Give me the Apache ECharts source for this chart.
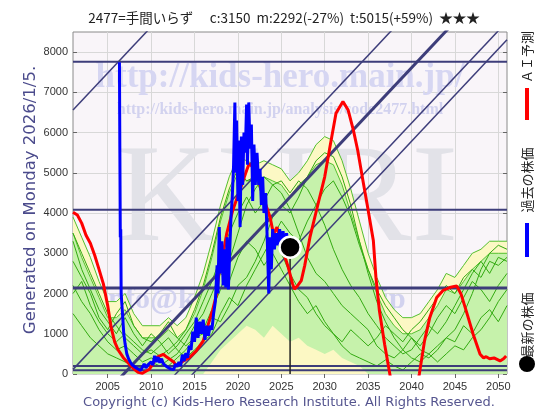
<!DOCTYPE html>
<html>
<head>
<meta charset="utf-8">
<script src="https://cdn.jsdelivr.net/npm/echarts@6/dist/echarts.min.js"></script>
<style>
html, body { margin: 0; padding: 0; background: #fff; }
#chart { width: 560px; height: 420px; }
</style>
</head>
<body>
<div id="chart"></div>
<script>
// 年（帯・シミュレーション線の横軸）
var years = [2001, 2002, 2003, 2004, 2005, 2006, 2007, 2008, 2009, 2010,
  2011, 2012, 2013, 2014, 2015, 2016, 2017, 2018, 2019, 2020,
  2021, 2022, 2023, 2024, 2025, 2026, 2027, 2028, 2029, 2030,
  2031, 2032, 2033, 2034, 2035, 2036, 2037, 2038, 2039, 2040,
  2041, 2042, 2043, 2044, 2045, 2046, 2047, 2048, 2049, 2050, 2051];

var xTicks = [2005, 2010, 2015, 2020, 2025, 2030, 2035, 2040, 2045, 2050];
var yTicks = [0, 1000, 2000, 3000, 4000, 5000, 6000, 7000, 8000];

// 帯（黄色＝外側、緑＝内側）
var yellowUpper = [3900, 3400, 2900, 2300, 1800, 1800, 2000, 1500, 1200, 1200,
  1200, 1400, 1200, 1400, 1900, 2500, 3300, 4200, 4900, 5400,
  5300, 5200, 5300, 5200, 5100, 4800, 5000, 5300, 5700, 5900,
  5800, 5300, 4600, 3800, 3000, 2400, 1900, 1600, 1400, 1400,
  1500, 1800, 2100, 2500, 2400, 2700, 3000, 3100, 3300, 3300, 3300];
var greenUpper = [3500, 2900, 2400, 1900, 1400, 1400, 1600, 1200, 900, 900,
  900, 1100, 900, 1100, 1500, 2100, 2900, 3800, 4500, 5000,
  4800, 4800, 4900, 4800, 4700, 4400, 4700, 4900, 5200, 5300,
  5200, 4700, 4000, 3300, 2600, 2000, 1500, 1200, 1000, 1000,
  1100, 1400, 1700, 2100, 2000, 2300, 2600, 2800, 3000, 3000, 3000];
var yellowLower = [0, 0, 0, 0, 0, 0, 0, 0, 0, 0,
  0, 0, 0, 0, 0, 0, 300, 600, 800, 1000,
  1200, 1100, 900, 1200, 1000, 800, 900, 700, 600, 500,
  600, 400, 300, 200, 0, 0, 0, 0, 0, 0,
  0, 0, 0, 0, 0, 0, 0, 0, 0, 0, 0];

// 類似パターン（緑の細線）
var sim1 = [3500, 3000, 2500, 2000, 1500, 1200, 900, 700, 500, 600,
  450, 600, 800, 1100, 1600, 2200, 3000, 3900, 4600, 5100,
  4800, 4900, 4300, 3600, 3000, 2500, 2100, 1900, 1500, 1200,
  1000, 800, 1100, 900, 700, 900, 1200, 1000, 800, 1100,
  1300, 1600, 1900, 2200, 2000, 2400, 2600, 2400, 2800, 2700, 2900];
var sim2 = [2800, 2400, 2000, 1400, 1100, 1500, 1800, 1200, 900, 800,
  1000, 1300, 900, 700, 900, 1000, 1400, 1300, 1700, 2200,
  2400, 2800, 3300, 3900, 4200, 4000, 4400, 4900, 5300, 5500,
  5400, 4900, 4200, 3300, 2500, 1800, 1300, 900, 600, 400,
  300, 500, 700, 900, 1100, 1500, 2000, 2600, 3000, 3200, 3100];
var sim3 = [2200, 1800, 1500, 1100, 800, 600, 700, 500, 300, 400,
  300, 200, 400, 600, 900, 1100, 1600, 2100, 2800, 3500,
  4200, 4600, 4900, 4700, 4500, 4100, 3500, 2900, 2500, 2300,
  2000, 1700, 1500, 1300, 1100, 700, 500, 400, 600, 900,
  700, 1000, 1400, 1700, 1500, 1900, 2300, 2100, 1800, 2200, 2500];
var sim4 = [1500, 1200, 900, 700, 500, 400, 300, 200, 150, 300,
  200, 350, 500, 800, 1200, 1500, 2000, 2500, 2300, 2900,
  3300, 3100, 2700, 3000, 2600, 2200, 1800, 1500, 1700, 1300,
  1000, 700, 500, 400, 300, 200, 350, 200, 100, 300,
  500, 400, 600, 900, 800, 1200, 1000, 1400, 1600, 1300, 1700];
var sim5 = [3300, 2600, 2100, 1600, 1300, 1000, 1400, 1000, 700, 1000,
  800, 500, 700, 1000, 1300, 1800, 2300, 2900, 3500, 4000,
  4400, 4000, 4300, 4700, 4800, 4500, 4800, 4600, 4200, 3700,
  3100, 2600, 2200, 1900, 1500, 1200, 900, 700, 500, 600,
  900, 1200, 1000, 1300, 1700, 2100, 2500, 2800, 2500, 2900, 2800];
var sim6 = [2000, 2300, 1700, 1300, 1000, 800, 1000, 800, 600, 500,
  700, 900, 600, 400, 600, 800, 1000, 1500, 1900, 1700,
  2200, 2600, 3000, 3400, 3800, 3500, 3300, 3800, 4200, 4600,
  4800, 4400, 3900, 3200, 2600, 2100, 1700, 1400, 1100, 900,
  600, 500, 300, 500, 700, 600, 900, 1100, 1400, 1800, 2100];

// 過去の株価 [年, 株価]
var pastPrice = [
  [2006.35, 7750], [2006.4, 5500], [2006.45, 3400], [2006.5, 3600], [2006.55, 2000],
  [2006.7, 1500], [2006.85, 1000], [2007.0, 750], [2007.2, 500], [2007.4, 380],
  [2007.6, 300], [2007.8, 230], [2008.0, 200], [2008.3, 150], [2008.5, 120],
  [2008.8, 90], [2009.0, 110], [2009.2, 250], [2009.4, 150], [2009.6, 220],
  [2009.8, 180], [2010.0, 300], [2010.2, 220], [2010.4, 450], [2010.6, 300],
  [2010.8, 420], [2011.0, 280], [2011.2, 380], [2011.4, 260], [2011.6, 300],
  [2011.8, 180], [2012.0, 200], [2012.2, 130], [2012.4, 160], [2012.6, 110],
  [2012.8, 250], [2013.0, 180], [2013.2, 300], [2013.4, 200], [2013.6, 480],
  [2013.8, 320], [2014.0, 520], [2014.2, 400], [2014.4, 700], [2014.6, 600],
  [2014.8, 1050], [2015.0, 800], [2015.2, 1400], [2015.4, 900], [2015.6, 1300],
  [2015.8, 1000], [2016.0, 1350], [2016.2, 850], [2016.4, 1200], [2016.6, 950],
  [2016.8, 1200], [2017.0, 1100], [2017.2, 1500], [2017.4, 1800], [2017.6, 2700],
  [2017.7, 2000], [2017.85, 3650], [2018.0, 2500], [2018.15, 3300], [2018.3, 2200],
  [2018.45, 3100], [2018.6, 2150], [2018.75, 3400], [2018.9, 2100], [2019.05, 3000],
  [2019.2, 3900], [2019.35, 4400], [2019.5, 5200], [2019.65, 6750], [2019.75, 5000],
  [2019.85, 6300], [2020.0, 4300], [2020.1, 5800], [2020.25, 3650], [2020.4, 5900],
  [2020.55, 4700], [2020.7, 6000], [2020.85, 5500], [2021.0, 6700], [2021.1, 5200],
  [2021.25, 6750], [2021.4, 5600], [2021.55, 6200], [2021.7, 4300], [2021.85, 5700],
  [2022.0, 4700], [2022.2, 5500], [2022.4, 4700], [2022.55, 5100], [2022.7, 4200],
  [2022.85, 4900], [2023.0, 4000], [2023.2, 4500], [2023.4, 3200], [2023.55, 2000],
  [2023.7, 3400], [2023.85, 2600], [2024.0, 3600], [2024.2, 3100], [2024.4, 3500],
  [2024.6, 3200], [2024.8, 3600], [2025.0, 3300], [2025.2, 3550], [2025.4, 3200],
  [2025.6, 3500], [2025.8, 3150], [2026.0, 3150]
];

// ＡＩ予測 [年, 株価]
var aiForecast = [
  [2001, 4020], [2001.5, 3950], [2002, 3750], [2002.5, 3450], [2003, 3250],
  [2003.5, 2950], [2004, 2600], [2004.5, 2240], [2005, 1700], [2005.4, 1150],
  [2005.8, 800], [2006.2, 600], [2006.8, 406], [2007.5, 240], [2008, 130],
  [2008.5, 40], [2009, 20], [2009.5, 80], [2009.8, 117], [2010.2, 250],
  [2010.6, 406], [2011, 450], [2011.4, 490], [2011.8, 420], [2012.2, 360],
  [2012.6, 300], [2012.9, 200], [2013.3, 260], [2013.7, 324], [2014.4, 406],
  [2015.2, 573], [2016, 823], [2016.7, 1320], [2017.1, 1600], [2017.5, 1950],
  [2017.9, 2650], [2018.3, 3000], [2018.7, 3480], [2019.4, 4065], [2020.2, 4560],
  [2021, 5060], [2021.3, 5230], [2021.7, 5150], [2022.3, 4900], [2022.9, 4400],
  [2023.7, 3900], [2024.1, 3480], [2024.5, 3650], [2025.2, 3070], [2025.8, 2650],
  [2026.3, 2240], [2026.5, 2110], [2026.9, 2200], [2027.3, 2320], [2027.7, 2700],
  [2028.3, 3400], [2029.2, 4200], [2030, 4900], [2030.6, 5640], [2031.3, 6480],
  [2032.1, 6770], [2032.7, 6560], [2033.3, 6060], [2033.8, 5560], [2034.4, 4810],
  [2034.9, 4200], [2035.6, 3320], [2035.9, 2400], [2036.3, 1570], [2036.9, 740],
  [2037.5, 0], [2038.2, -900], [2039.2, -1200], [2040.2, -800], [2040.9, 0],
  [2041.5, 823], [2042.1, 1400], [2042.9, 1900], [2043.6, 2070], [2044.4, 2150],
  [2045.2, 2190], [2045.7, 1990], [2046.3, 1570], [2047.1, 990], [2047.9, 490],
  [2048.3, 400], [2048.6, 430], [2049, 380], [2049.5, 400], [2050.2, 324],
  [2050.6, 380], [2050.9, 450]
];

var latest = [2026.01, 3150];

// 水平ライン（高値・節目・安値）
var hLevels = [7760, 4080, 2140, 200, 92];
var hWidths = [2, 2, 3, 2, 2];

// トレンドライン [[2001年の値], [2051年の値]]
var trendLines = [
  [[2001, 6560], [2051, 18040]],
  [[2001, 115], [2051, 11590]],
  [[2001, -1340], [2051, 10135]],
  [[2001, -2715], [2051, 8760]],
  [[2001, -3165], [2051, 8310]]
];
var trendWidths = [1.5, 1.5, 3, 1.5, 1.5];

var navy = "#3d3d7a";

function pairs(arr) {
  return years.map(function (y, i) { return [y, arr[i]]; });
}
function plain(v) {
  return String(v);
}

var series = [];

series.push({
  type: "line", data: pairs(yellowUpper), symbol: "none", silent: true, z: 2,
  lineStyle: { color: "#55c030", width: 1 },
  areaStyle: { color: "#fcf8c4", opacity: 1 }
});
series.push({
  type: "line", data: pairs(greenUpper), symbol: "none", silent: true, z: 2,
  lineStyle: { color: "#55c030", width: 1 },
  areaStyle: { color: "#c6f2ab", opacity: 1 }
});
series.push({
  type: "line", data: pairs(yellowLower), symbol: "none", silent: true, z: 2,
  lineStyle: { width: 0 },
  areaStyle: { color: "#fcf8c4", opacity: 1 }
});

[sim1, sim2, sim3, sim4, sim5, sim6].forEach(function (s) {
  series.push({
    type: "line", data: pairs(s), symbol: "none", silent: true, z: 3,
    lineStyle: { color: "#33aa11", width: 1 }
  });
});

hLevels.forEach(function (v, i) {
  series.push({
    type: "line", data: [[2001, v], [2051, v]], symbol: "none", silent: true, z: 4,
    lineStyle: { color: navy, width: hWidths[i] }
  });
});

trendLines.forEach(function (t, i) {
  series.push({
    type: "line", data: t, symbol: "none", silent: true, z: 4,
    lineStyle: { color: navy, width: trendWidths[i] }
  });
});

series.push({
  type: "line", data: [[latest[0], 0], latest], symbol: "none", silent: true, z: 5,
  lineStyle: { color: "#222", width: 1.5 }
});

series.push({
  name: "ＡＩ予測", type: "line", data: aiForecast, symbol: "none", z: 6,
  lineStyle: { color: "#ff0000", width: 3 }
});
series.push({
  name: "過去の株価", type: "line", data: pastPrice, symbol: "none", z: 7,
  lineStyle: { color: "#0000ff", width: 3 }
});
series.push({
  name: "最新の株価", type: "scatter", data: [latest], symbol: "circle", symbolSize: 21, z: 8,
  itemStyle: { color: "#000", borderColor: "#fff", borderWidth: 2.5, opacity: 1 }
});

var chart = echarts.init(document.getElementById("chart"));
chart.setOption({
  animation: false,
  backgroundColor: "#ffffff",
  grid: {
    left: 73, right: 53, top: 32, bottom: 46,
    show: true, backgroundColor: "#f9f5f9", borderColor: "#8a8a8a", borderWidth: 1
  },
  xAxis: [
    {
      type: "value", min: 2001, max: 2051,
      axisLine: { show: false },
      axisTick: { customValues: xTicks, inside: true, length: 4, lineStyle: { color: "#666" } },
      axisLabel: { customValues: xTicks, formatter: plain, color: "#333", fontSize: 11, margin: 7, fontFamily: "Liberation Sans" },
      splitLine: { show: true, lineStyle: { color: "#d8d8d8", width: 1 } }
    },
    {
      type: "value", min: 2001, max: 2051, position: "top",
      axisLine: { show: false },
      axisTick: { customValues: xTicks, inside: true, length: 4, lineStyle: { color: "#666" } },
      axisLabel: { show: false },
      splitLine: { show: false }
    }
  ],
  yAxis: [
    {
      type: "value", min: 0, max: 8500,
      axisLine: { show: false },
      axisTick: { customValues: yTicks, inside: true, length: 4, lineStyle: { color: "#666" } },
      axisLabel: { customValues: yTicks, formatter: plain, color: "#333", fontSize: 11, margin: 5, fontFamily: "Liberation Sans" },
      splitLine: { show: true, lineStyle: { color: "#d8d8d8", width: 1 } }
    },
    {
      type: "value", min: 0, max: 8500, position: "right",
      axisLine: { show: false },
      axisTick: { customValues: yTicks, inside: true, length: 4, lineStyle: { color: "#666" } },
      axisLabel: { show: false },
      splitLine: { show: false }
    }
  ],
  graphic: [
    // 透かし
    { type: "text", z: 1, x: 280, y: 78, style: { text: "http://kids-hero.main.jp/", fill: "#d6d6f2", font: "bold 35px 'Liberation Serif'", textAlign: "center", textVerticalAlign: "middle" } },
    { type: "text", z: 1, x: 280, y: 110, style: { text: "http://kids-hero.main.jp/analysis/code2477.html", fill: "#d2d2ef", font: "bold 16px 'Liberation Serif'", textAlign: "center", textVerticalAlign: "middle" } },
    { type: "text", z: 1, x: 287, y: 203, style: { text: "KHRI", fill: "#e2e2e8", font: "140px 'Liberation Serif'", textAlign: "center", textVerticalAlign: "middle" } },
    { type: "text", z: 1, x: 100, y: 300, style: { text: "info@kids-hero.main.jp", fill: "#d2d2ef", font: "bold 30px 'Liberation Serif'", textAlign: "left", textVerticalAlign: "middle" } },
    // タイトル
    { type: "text", z: 10, x: 284, y: 18, style: { text: "2477=手間いらず　 c:3150  m:2292(-27%)  t:5015(+59%)  ★★★", fill: "#222", font: "13.5px 'Noto Sans CJK JP'", textAlign: "center", textVerticalAlign: "middle" } },
    // 縦書き注記
    { type: "text", z: 10, x: 31, y: 200, rotation: Math.PI / 2, style: { text: "Generated on Monday 2026/1/5.", fill: "#4b4b8c", font: "16.5px 'DejaVu Sans'", textAlign: "center", textVerticalAlign: "middle" } },
    // 著作権表示
    { type: "text", z: 10, x: 289, y: 403, style: { text: "Copyright (c) Kids-Hero Research Institute. All Rights Reserved.", fill: "#55558f", font: "13px 'DejaVu Sans'", textAlign: "center", textVerticalAlign: "middle" } },
    // 凡例
    { type: "text", z: 10, x: 527, y: 57, rotation: Math.PI / 2, style: { text: "ＡＩ予測", fill: "#222", font: "13px 'Noto Sans CJK JP'", textAlign: "center", textVerticalAlign: "middle" } },
    { type: "rect", z: 10, shape: { x: 525, y: 88, width: 4, height: 32 }, style: { fill: "#ff0000" } },
    { type: "text", z: 10, x: 527, y: 180, rotation: Math.PI / 2, style: { text: "過去の株価", fill: "#222", font: "13px 'Noto Sans CJK JP'", textAlign: "center", textVerticalAlign: "middle" } },
    { type: "rect", z: 10, shape: { x: 525, y: 223, width: 4, height: 34 }, style: { fill: "#0000ff" } },
    { type: "text", z: 10, x: 527, y: 325, rotation: Math.PI / 2, style: { text: "最新の株価", fill: "#222", font: "13px 'Noto Sans CJK JP'", textAlign: "center", textVerticalAlign: "middle" } },
    { type: "circle", z: 10, shape: { cx: 527, cy: 364, r: 8 }, style: { fill: "#000" } }
  ],
  series: series
});
</script>
</body>
</html>
